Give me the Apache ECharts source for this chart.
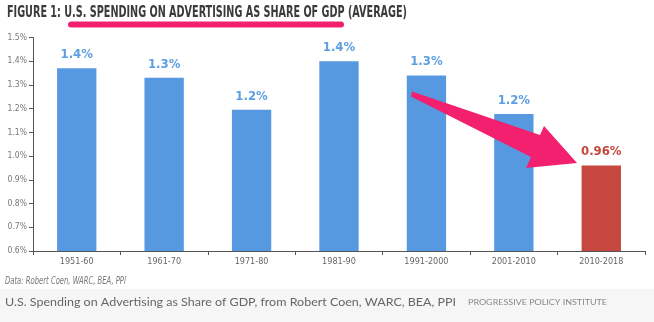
<!DOCTYPE html>
<html>
<head>
<meta charset="utf-8">
<script src="https://cdn.jsdelivr.net/npm/echarts@6/dist/echarts.min.js"></script>
<style>
  html, body { margin: 0; padding: 0; background: #ffffff; }
  #chart { width: 654px; height: 322px; }
</style>
</head>
<body>
<div id="chart"></div>
<script>
// Decades and average ad spending as a share of GDP (percent)
const periods = ['1951-60', '1961-70', '1971-80', '1981-90', '1991-2000', '2001-2010', '2010-2018'];
const adShare = [1.37, 1.33, 1.195, 1.40, 1.34, 1.177, 0.96];
// digits shown in each value label
const labelDigits = [1, 1, 1, 1, 1, 1, 2];
// value axis range and step
const yMin = 0.6, yMax = 1.5, yStep = 0.1;

const titleText = 'FIGURE 1: U.S. SPENDING ON ADVERTISING AS SHARE OF GDP (AVERAGE)';
const sourceText = 'Data: Robert Coen, WARC, BEA, PPI';
const captionText = 'U.S. Spending on Advertising as Share of GDP, from Robert Coen, WARC, BEA, PPI';
const creditText = 'PROGRESSIVE POLICY INSTITUTE';

const BLUE = '#5799e0';
const RED = '#c5473d';
const PINK = '#f2206f';
const narrow = '"Liberation Sans Narrow", "DejaVu Sans Condensed", "Roboto", sans-serif';

// horizontal scale that makes a line of text span a given width
function fitScale(text, font, width) {
  const c = document.createElement('canvas').getContext('2d');
  c.font = font;
  return width / c.measureText(text).width;
}
const titleFont = 'bold 15px ' + narrow;
const sourceFont = 'italic 10.5px ' + narrow;
const captionFont = '12px Lato, "Open Sans", sans-serif';
const creditFont = '8px Lato, "Open Sans", sans-serif';

const chart = echarts.init(document.getElementById('chart'), null, { renderer: 'canvas' });

const barData = adShare.map((v, i) => ({
  value: v,
  itemStyle: { color: i === adShare.length - 1 ? RED : BLUE },
  label: { color: i === adShare.length - 1 ? RED : '#5b9fe2' }
}));

chart.setOption({
  animation: false,
  backgroundColor: '#ffffff',
  grid: { left: 33, right: 9, top: 37.5, bottom: 71, containLabel: false },
  xAxis: {
    type: 'category',
    data: periods,
    boundaryGap: true,
    axisLine: { lineStyle: { color: '#555', width: 1 } },
    axisTick: { show: true, length: 4, lineStyle: { color: '#555' } },
    axisLabel: { color: '#666', fontSize: 9, fontFamily: narrow, margin: 6 }
  },
  yAxis: {
    type: 'value',
    min: yMin,
    max: yMax,
    interval: yStep,
    axisLine: { show: true, lineStyle: { color: '#555', width: 1 } },
    axisTick: { show: true, length: 4, lineStyle: { color: '#555' } },
    splitLine: { show: false },
    axisLabel: {
      color: '#777', fontSize: 8.5, fontFamily: narrow, margin: 6,
      formatter: v => v.toFixed(1) + '%'
    }
  },
  series: [{
    type: 'bar',
    data: barData,
    barWidth: '45%',
    label: {
      show: true,
      position: 'top',
      distance: 7,
      fontSize: 13,
      fontFamily: narrow,
      fontWeight: 'bold',
      formatter: p => p.value.toFixed(labelDigits[p.dataIndex]) + '%'
    }
  }],
  graphic: [
    // caption band at the foot
    { type: 'rect', left: 0, top: 289, z: -1, shape: { width: 654, height: 33 }, style: { fill: '#f6f6f6' }, silent: true },
    {
      type: 'text', x: 7, y: 6, scaleX: fitScale(titleText, titleFont, 400),
      style: { text: titleText, font: titleFont, fill: '#3b3b3b', textVerticalAlign: 'top' }
    },
    // underline beneath the headline subject
    { type: 'rect', shape: { x: 68, y: 21.5, width: 276, height: 6, r: 3 }, style: { fill: PINK } },
    {
      type: 'text', x: 5, y: 281, scaleX: fitScale(sourceText, sourceFont, 121),
      style: { text: sourceText, font: sourceFont, fill: '#777', textVerticalAlign: 'middle' }
    },
    {
      type: 'text', x: 5, y: 302.5, scaleX: fitScale(captionText, captionFont, 451),
      style: { text: captionText, font: captionFont, fill: '#666', textVerticalAlign: 'middle' }
    },
    {
      type: 'text', x: 468, y: 302.5, scaleX: fitScale(creditText, creditFont, 139),
      style: { text: creditText, font: creditFont, fill: '#888', textVerticalAlign: 'middle' }
    },
    // tapered arrow pointing down to the latest period
    {
      type: 'polygon',
      z: 100,
      shape: {
        points: [
          [412, 91.5], [540, 135], [544, 126], [577, 163], [526, 168], [531, 157], [411, 96.5]
        ]
      },
      style: { fill: PINK }
    }
  ]
});
</script>
</body>
</html>
